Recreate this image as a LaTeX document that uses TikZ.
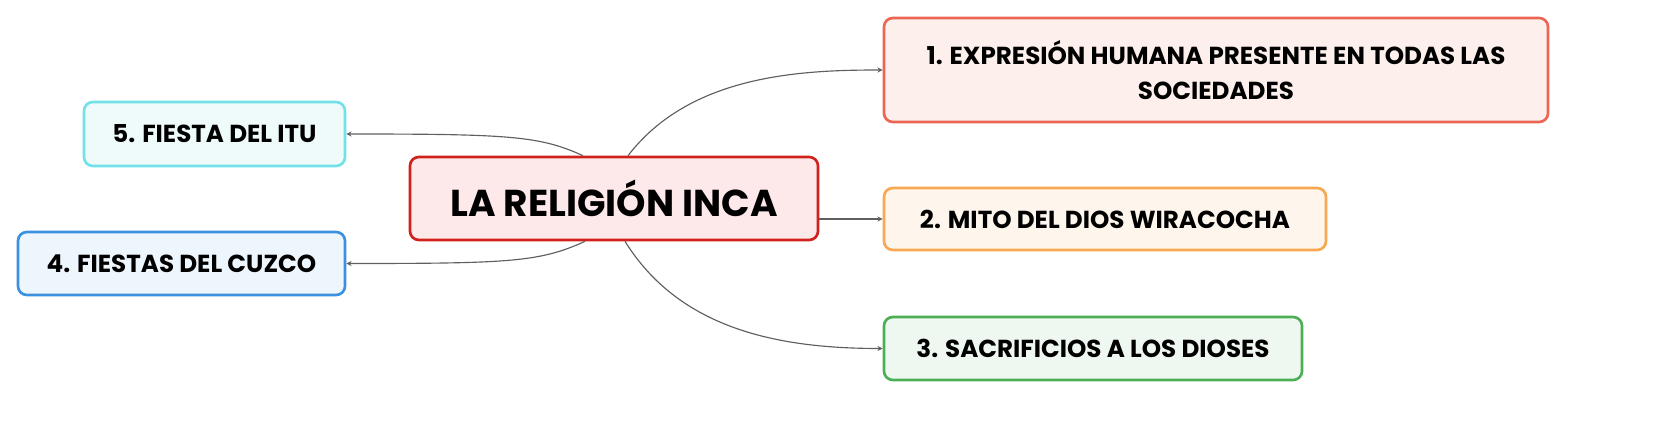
\documentclass[tikz,border=0pt]{standalone}
\usepackage{fontspec}
\setmainfont{Poppins}
\usetikzlibrary{positioning, calc, arrows.meta}

\definecolor{rootline}{HTML}{D0211B}
\definecolor{rootfill}{HTML}{FDE9E9}
\definecolor{oneline}{HTML}{EB6753}
\definecolor{onefill}{HTML}{FDF0EC}
\definecolor{twoline}{HTML}{F7A851}
\definecolor{twofill}{HTML}{FEF5EC}
\definecolor{threeline}{HTML}{4CAF55}
\definecolor{threefill}{HTML}{EFF8F0}
\definecolor{fourline}{HTML}{3B91DF}
\definecolor{fourfill}{HTML}{EEF6FD}
\definecolor{fiveline}{HTML}{72E2E8}
\definecolor{fivefill}{HTML}{EFFAFB}
\definecolor{linkgray}{HTML}{5F5F5F}

\begin{document}
\begin{tikzpicture}[x=0.02cm, y=-0.02cm,
    topic/.style={draw, line width=1.5pt, rounded corners=5pt, inner sep=0pt,
                  font=\fontsize{14}{20}\selectfont\bfseries, align=center},
    link/.style={draw=linkgray, line width=0.65pt, -{Stealth[length=3pt, width=3pt]}}]
                \useasboundingbox (0,0) rectangle (1669,425);

                \node[topic, draw=rootline, fill=rootfill, minimum width=408*0.02cm, minimum height=83*0.02cm,
                      font=\fontsize{21.3}{25}\selectfont\bfseries] (root) at (614,198.5) {LA RELIGIÓN INCA};

                \node[topic, draw=oneline, fill=onefill, minimum width=664*0.02cm, minimum height=104*0.02cm]
                      (one) at (1216,70) {1. EXPRESIÓN HUMANA PRESENTE EN TODAS LAS\\SOCIEDADES};
                \node[topic, draw=twoline, fill=twofill, minimum width=442*0.02cm, minimum height=62*0.02cm]
                      (two) at (1105,219) {2. MITO DEL DIOS WIRACOCHA};
                \node[topic, draw=threeline, fill=threefill, minimum width=418*0.02cm, minimum height=63*0.02cm]
                      (three) at (1093,348.5) {3. SACRIFICIOS A LOS DIOSES};
                \node[topic, draw=fourline, fill=fourfill, minimum width=327*0.02cm, minimum height=63*0.02cm]
                      (four) at (181.5,263.5) {4. FIESTAS DEL CUZCO};
                \node[topic, draw=fiveline, fill=fivefill, minimum width=261*0.02cm, minimum height=64*0.02cm]
                      (five) at (214.5,134) {5. FIESTA DEL ITU};

                % branches
                \draw[link] ($(root.north)+(14,0)$) .. controls (690,75) and (800,70) .. (one.west);
                \draw[link] (root.east |- two.west) -- (two.west);
                \draw[link] ($(root.south)+(11,0)$) .. controls (680,330) and (780,348.5) .. (three.west);
                \draw[link] ($(root.south)+(-29,0)$) .. controls (540,262) and (510,263.5) .. (four.east);
                \draw[link] ($(root.north)+(-31,0)$) .. controls (540,136) and (510,134) .. (five.east);
            \end{tikzpicture}
\end{document}
